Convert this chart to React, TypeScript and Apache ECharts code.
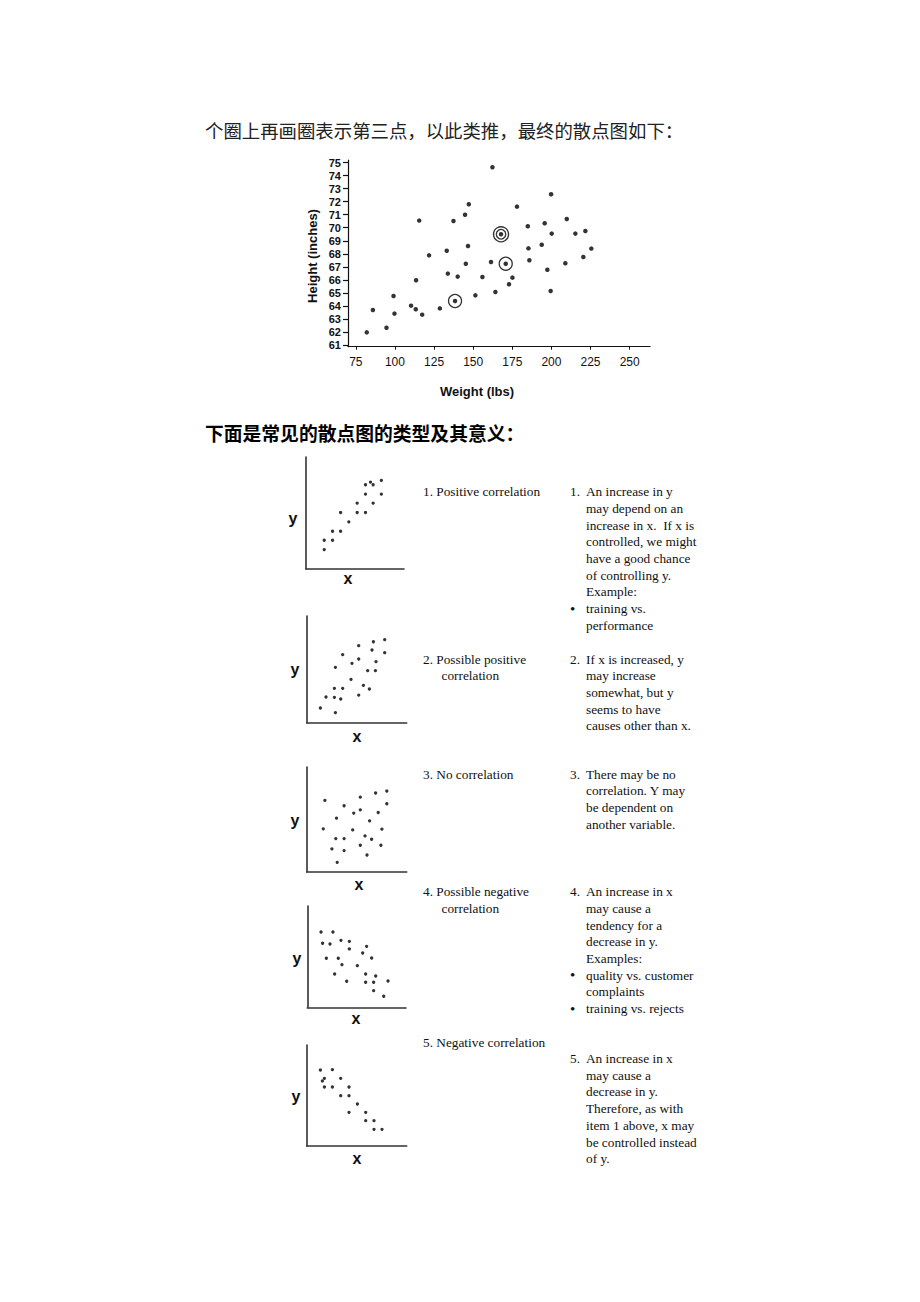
import React, { useEffect, useRef } from "react";
import * as echarts from "echarts";

// ---------- texts ----------
const introText = "个圈上再画圈表示第三点，以此类推，最终的散点图如下：";
const sectionTitle = "下面是常见的散点图的类型及其意义：";
const xAxisTitle = "Weight (lbs)";
const yAxisTitle = "Height (inches)";

// ---------- main chart data ----------
const weightTicks = [75, 100, 125, 150, 175, 200, 225, 250];
const heightTicks = [61, 62, 63, 64, 65, 66, 67, 68, 69, 70, 71, 72, 73, 74, 75];

const heightWeight: number[][] = [
  [162.3, 74.64], [199.8, 72.57], [147.2, 71.8], [178.0, 71.62], [144.8, 71.0],
  [115.5, 70.55], [137.4, 70.52], [209.8, 70.67], [195.7, 70.34], [184.9, 70.11],
  [167.8, 69.5], [200.2, 69.55], [215.3, 69.55], [221.7, 69.75], [193.8, 68.7],
  [146.7, 68.6], [185.3, 68.42], [225.5, 68.4], [133.1, 68.24], [121.8, 67.88],
  [220.4, 67.76], [161.4, 67.37], [170.8, 67.24], [145.3, 67.24], [185.9, 67.5],
  [208.9, 67.27], [133.8, 66.48], [140.1, 66.25], [155.9, 66.22], [197.4, 66.78],
  [175.1, 66.17], [113.5, 65.97], [172.9, 65.66], [164.2, 65.07], [199.5, 65.15],
  [151.4, 64.81], [99.1, 64.76], [138.4, 64.38], [110.3, 64.02], [85.9, 63.69],
  [113.3, 63.74], [128.7, 63.81], [99.7, 63.41], [117.4, 63.33], [94.6, 62.33],
  [82.0, 61.97],
];
const circledOnce: number[][] = [[138.4, 64.38], [170.8, 67.24]];
const circledTwice: number[][] = [[167.8, 69.5]];

// ---------- small example charts (x, y on 0..100) ----------
const positivePts: number[][] = [
  [18.6, 17.3], [18.6, 25.7], [27.1, 25.7], [27.1, 33.7], [35.3, 33.7], [35.3, 50.4],
  [43.7, 42.1], [52.2, 50.4], [52.2, 58.8], [60.7, 50.4], [60.7, 66.9], [60.7, 75.2],
  [65.8, 77.6], [68.5, 75.2], [68.5, 58.8], [76.9, 79.1], [76.9, 66.9],
];
const possiblePositivePts: number[][] = [
  [13.7, 13.8], [28.7, 9.4], [19.3, 24.1], [27.7, 23.8], [34, 22.2], [27.7, 32.2],
  [36, 32.2], [52, 25.9], [56.7, 35], [62.7, 31.6], [44.3, 40.6], [28.7, 51.9],
  [45.3, 55.6], [52, 59.7], [36, 63.8], [52, 72.2], [61, 48.8], [68.7, 48.8],
  [69.3, 57.2], [65.3, 68.1], [66.7, 75.9], [78, 77.8], [78, 65.6],
];
const noCorrelationPts: number[][] = [
  [18.2, 68.2], [16.6, 41.1], [29.8, 51.3], [37.4, 63.1], [53.6, 71.3], [68.9, 75.2],
  [80.1, 77.1], [80.1, 65], [53.6, 59.2], [47, 56.1], [71.5, 56.7], [62.9, 48.7],
  [46, 40.1], [75.2, 40.8], [29.1, 31.8], [37.4, 31.8], [58.3, 34.4], [64.9, 31.2],
  [25.2, 22], [37.4, 20.4], [53.6, 25.5], [74.2, 25.5], [60.3, 16.2], [30.5, 9.2],
];
const possibleNegativePts: number[][] = [
  [13.9, 74.3], [26, 74.3], [15.5, 63.2], [23, 62.5], [34.1, 66.1], [42.6, 65.1],
  [42.6, 57.6], [60.1, 60.2], [56.1, 53.6], [65.2, 48.7], [19.3, 48.4], [31.4, 48.4],
  [35.1, 42.1], [50.7, 41.1], [27.7, 32.9], [59.1, 32.9], [69.3, 30.9], [39.9, 25.7],
  [59.1, 24.7], [67.2, 24.7], [81.8, 26], [67.2, 16.4], [77.4, 10.9],
];
const negativePts: number[][] = [
  [13.7, 75.2], [25.7, 75.6], [17.7, 67], [15.7, 64.4], [17.7, 58.4], [25.7, 58.4],
  [34, 67], [42.3, 58.4], [34, 49.8], [42.3, 49.8], [50.7, 41.6], [42.3, 33.3],
  [59, 33.3], [59, 25.1], [67.3, 25.1], [67.3, 16.5], [75.3, 16.5],
];

// ---------- description texts ----------
const typeLabels: string[][] = [
  ["1. Positive correlation"],
  ["2. Possible positive", "correlation"],
  ["3. No correlation"],
  ["4. Possible negative", "correlation"],
  ["5. Negative correlation"],
];
// lines beginning with "•" are bullet items
const typeMeanings: string[][] = [
  ["An increase in y", "may depend on an", "increase in x.  If x is", "controlled, we might", "have a good chance", "of controlling y.", "Example:", "•training vs.", "performance"],
  ["If x is increased, y", "may increase", "somewhat, but y", "seems to have", "causes other than x."],
  ["There may be no", "correlation. Y may", "be dependent on", "another variable."],
  ["An increase in x", "may cause a", "tendency for a", "decrease in y.", "Examples:", "•quality vs. customer", "complaints", "•training vs. rejects"],
  ["An increase in x", "may cause a", "decrease in y.", "Therefore, as with", "item 1 above, x may", "be controlled instead", "of y."],
];

// ---------- layout ----------
const smallGrids = [
  { left: 306, top: 457, width: 98, height: 112, yLab: [293, 518], xLab: [348, 578] },
  { left: 306.7, top: 616, width: 100, height: 106.7, yLab: [295, 669], xLab: [357, 736] },
  { left: 306.7, top: 767, width: 100, height: 105, yLab: [295, 820], xLab: [359, 884] },
  { left: 307.3, top: 906, width: 98.7, height: 101.3, yLab: [297, 958], xLab: [356, 1018] },
  { left: 306.7, top: 1045, width: 100, height: 101, yLab: [296, 1096], xLab: [357, 1158] },
];
const labelTops = [491.7, 659, 774, 891.7, 1042.7];
const meaningTops = [491.7, 659, 774, 891.7, 1058.5];
const LH = 16.7;
const SERIF = "'Liberation Serif', 'Times New Roman', serif";
const SANS = "'Liberation Sans', Arial, sans-serif";

function buildOption() {
  const smallSets = [positivePts, possiblePositivePts, noCorrelationPts, possibleNegativePts, negativePts];

  const grids: any[] = [{ left: 348, top: 160, width: 302, height: 186.7 }];
  const xAxes: any[] = [
    {
      gridIndex: 0, type: "value", min: 70, max: 263,
      axisLine: { show: true, onZero: false, lineStyle: { color: "#111", width: 1.2 } },
      axisTick: { show: true, length: 3, customValues: weightTicks, lineStyle: { color: "#111" } },
      axisLabel: { customValues: weightTicks, color: "#111", fontSize: 12, fontFamily: SANS, margin: 9 },
      splitLine: { show: false },
    },
  ];
  const yAxes: any[] = [
    {
      gridIndex: 0, type: "value", min: 60.87, max: 75.2,
      axisLine: { show: true, onZero: false, lineStyle: { color: "#111", width: 1.2 } },
      axisTick: { show: true, length: 5, customValues: heightTicks, lineStyle: { color: "#111", width: 1.2 } },
      axisLabel: { customValues: heightTicks, color: "#111", fontSize: 11, fontWeight: "bold", fontFamily: SANS, margin: 7 },
      splitLine: { show: false },
    },
  ];
  const series: any[] = [
    {
      type: "scatter", xAxisIndex: 0, yAxisIndex: 0, data: heightWeight,
      symbol: "circle", symbolSize: 4.5, itemStyle: { color: "#000" }, z: 5,
    },
    {
      type: "scatter", xAxisIndex: 0, yAxisIndex: 0, data: circledOnce,
      symbol: "circle", symbolSize: 13,
      itemStyle: { color: "rgba(0,0,0,0)", borderColor: "#000", borderWidth: 1.3 }, z: 4,
    },
    {
      type: "scatter", xAxisIndex: 0, yAxisIndex: 0, data: circledTwice,
      symbol: "circle", symbolSize: 15,
      itemStyle: { color: "rgba(0,0,0,0)", borderColor: "#000", borderWidth: 1.4 }, z: 4,
    },
    {
      type: "scatter", xAxisIndex: 0, yAxisIndex: 0, data: circledTwice,
      symbol: "circle", symbolSize: 9.5,
      itemStyle: { color: "rgba(0,0,0,0)", borderColor: "#000", borderWidth: 1.3 }, z: 4,
    },
  ];

  const graphics: any[] = [];
  const addText = (text: string, x: number, y: number, font: string, extra: any = {}) => {
    graphics.push({
      type: "text", x, y, silent: true, ...extra,
      style: { text, font, fill: "#111", align: "left", verticalAlign: "middle", ...(extra.style || {}) },
    });
  };

  smallGrids.forEach((g, i) => {
    const idx = i + 1;
    grids.push({ left: g.left, top: g.top, width: g.width, height: g.height });
    const axisBase = {
      gridIndex: idx, type: "value", min: 0, max: 100,
      axisLine: { show: true, onZero: false, lineStyle: { color: "#333", width: 1.6 } },
      axisTick: { show: false }, axisLabel: { show: false }, splitLine: { show: false },
    };
    xAxes.push({ ...axisBase });
    yAxes.push({ ...axisBase });
    series.push({
      type: "scatter", xAxisIndex: idx, yAxisIndex: idx, data: smallSets[i],
      symbol: "circle", symbolSize: 3.3, itemStyle: { color: "#000" },
    });
    addText("y", g.yLab[0], g.yLab[1], `bold 16px ${SANS}`, { style: { align: "center" } });
    addText("x", g.xLab[0], g.xLab[1], `bold 16px ${SANS}`, { style: { align: "center" } });
  });

  // headings
  addText(introText, 205, 130, "18.4px 'Noto Sans CJK SC', sans-serif", { style: { fill: "#222" } });
  addText(sectionTitle, 205, 432, "bold 18.8px 'Noto Sans CJK SC', sans-serif", { style: { fill: "#000" } });

  // main chart axis titles
  addText(xAxisTitle, 477, 391, `bold 13px ${SANS}`, { style: { align: "center" } });
  addText(yAxisTitle, 312, 256, `bold 13px ${SANS}`, { rotation: Math.PI / 2, style: { align: "center" } });

  // type labels & meanings
  const serifFont = `13.3px ${SERIF}`;
  typeLabels.forEach((lines, i) => {
    lines.forEach((ln, j) => addText(ln, j === 0 ? 423 : 441.5, labelTops[i] + j * LH, serifFont));
  });
  typeMeanings.forEach((lines, i) => {
    addText(`${i + 1}.`, 570, meaningTops[i], serifFont);
    lines.forEach((ln, j) => {
      const y = meaningTops[i] + j * LH;
      if (ln.startsWith("•")) {
        addText("•", 570, y, `15px ${SERIF}`);
        addText(ln.slice(1), 586, y, serifFont);
      } else {
        addText(ln, 586, y, serifFont);
      }
    });
  });

  return {
    animation: false,
    backgroundColor: "#fff",
    grid: grids,
    xAxis: xAxes,
    yAxis: yAxes,
    series,
    graphic: { elements: graphics },
  };
}

export default function App() {
  const ref = useRef<HTMLDivElement>(null);
  useEffect(() => {
    if (!ref.current) return;
    const chart = echarts.init(ref.current, undefined, { renderer: "svg" });
    chart.setOption(buildOption());
    return () => chart.dispose();
  }, []);
  return (
    <div
      ref={ref}
      style={{ position: "absolute", left: 0, top: 0, width: 920, height: 1302 }}
    />
  );
}
